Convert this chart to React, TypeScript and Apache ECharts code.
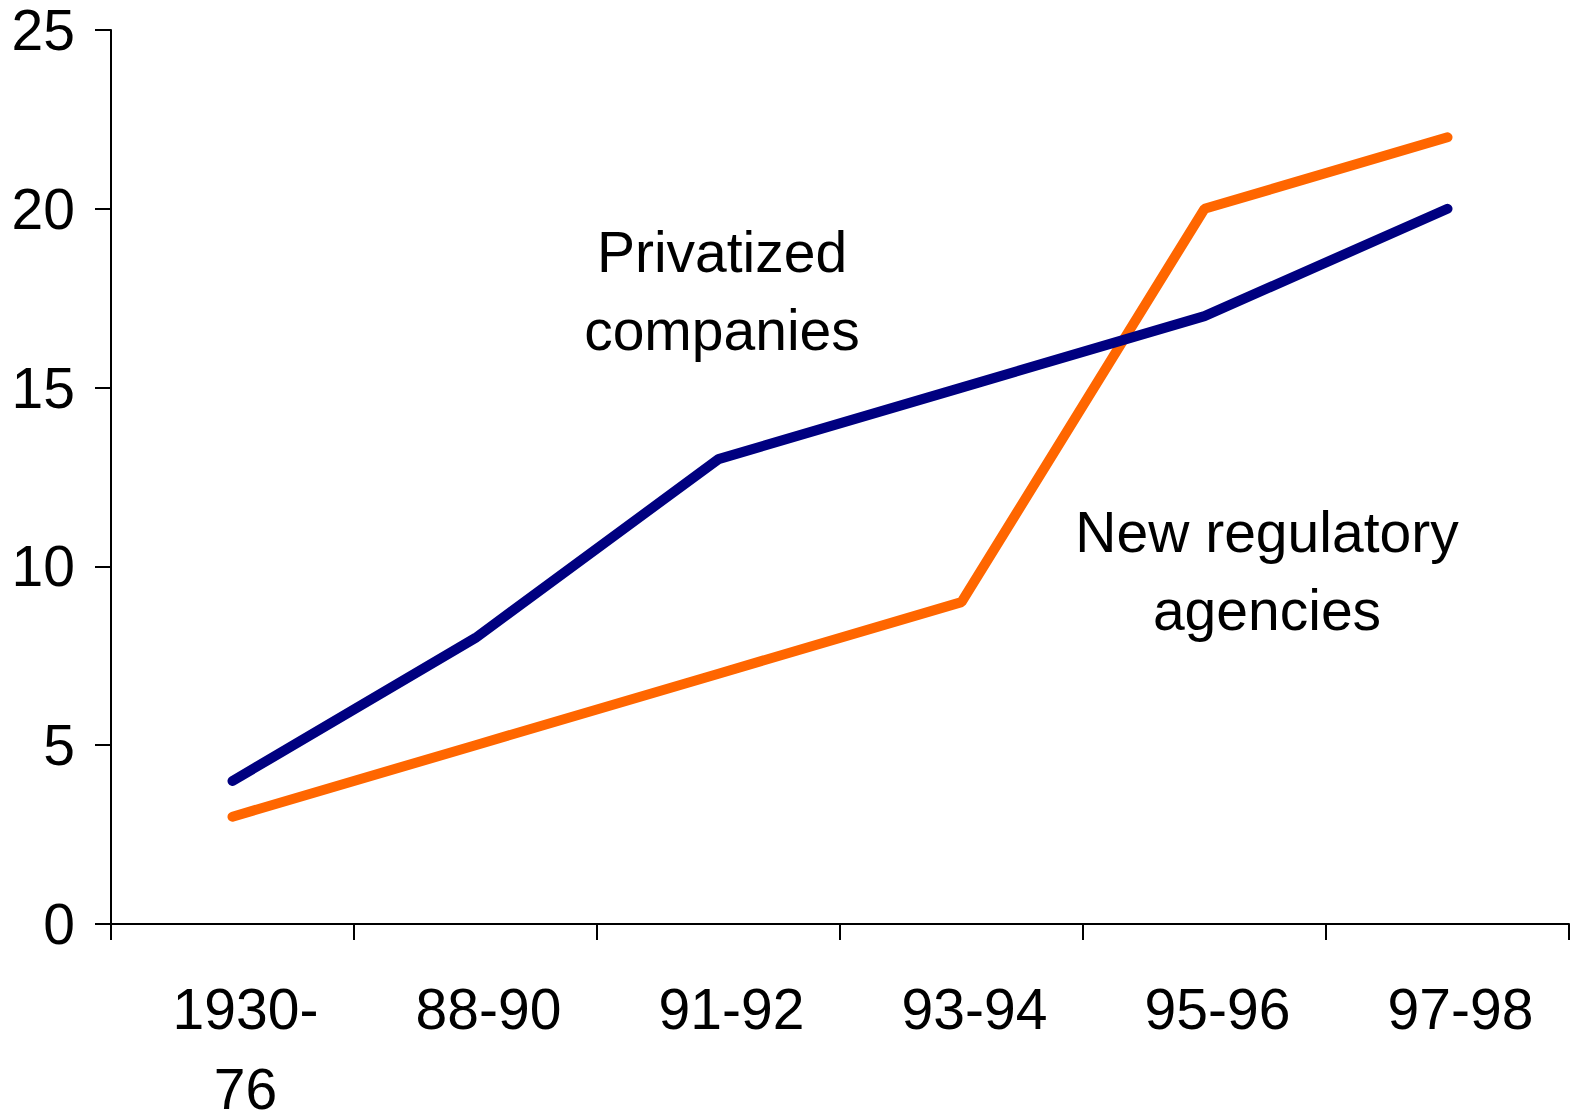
import React, { useEffect, useRef } from "react";
import * as echarts from "echarts";

const categories = ["1930-\n76", "88-90", "91-92", "93-94", "95-96", "97-98"];
const privatizedCompanies = [4, 8, 13, 15, 17, 20];
const newRegulatoryAgencies = [3, 5, 7, 9, 20, 22];
const yTicks = { min: 0, max: 25, interval: 5 };

const FONT = "'Liberation Sans', Arial, Helvetica, sans-serif";

export default function App() {
  const ref = useRef<HTMLDivElement>(null);
  useEffect(() => {
    document.body.style.margin = "0";
    const chart = echarts.init(ref.current!, null, { renderer: "svg" });
    chart.setOption({
      animation: false,
      backgroundColor: "#ffffff",
      textStyle: { fontFamily: FONT },
      grid: {
        left: 111,
        top: 30,
        right: 3,
        bottom: 192,
        containLabel: false,
        outerBoundsMode: "none",
      },
      xAxis: {
        type: "category",
        data: categories,
        boundaryGap: true,
        axisLine: { show: true, lineStyle: { color: "#000", width: 2 } },
        axisTick: { show: true, length: 16, inside: false, lineStyle: { color: "#000", width: 2 } },
        axisLabel: {
          color: "#000",
          fontSize: 57,
          fontFamily: FONT,
          lineHeight: 80,
          margin: 45,
          interval: 0,
          padding: [0, 0, 0, 26],
          hideOverlap: false,
        },
        splitLine: { show: false },
      },
      yAxis: {
        type: "value",
        min: yTicks.min,
        max: yTicks.max,
        interval: yTicks.interval,
        axisLine: { show: true, lineStyle: { color: "#000", width: 2 } },
        axisTick: { show: true, length: 16, inside: false, lineStyle: { color: "#000", width: 2 } },
        axisLabel: { color: "#000", fontSize: 57, fontFamily: FONT, margin: 36 },
        splitLine: { show: false },
      },
      series: [
        {
          name: "Privatized companies",
          type: "line",
          data: privatizedCompanies,
          symbol: "none",
          lineStyle: { color: "#000080", width: 10, cap: "round", join: "bevel" },
          itemStyle: { color: "#000080" },
          z: 3,
        },
        {
          name: "New regulatory agencies",
          type: "line",
          data: newRegulatoryAgencies,
          symbol: "none",
          lineStyle: { color: "#FF6600", width: 10, cap: "round", join: "bevel" },
          itemStyle: { color: "#FF6600" },
          z: 2,
        },
      ],
      graphic: [
        {
          type: "text",
          x: 722,
          y: 213,
          style: {
            text: "Privatized\ncompanies",
            fill: "#000",
            font: `57px ${FONT}`,
            lineHeight: 78,
            align: "center",
            verticalAlign: "top",
          },
        },
        {
          type: "text",
          x: 1267,
          y: 493,
          style: {
            text: "New regulatory\nagencies",
            fill: "#000",
            font: `57px ${FONT}`,
            lineHeight: 78,
            align: "center",
            verticalAlign: "top",
          },
        },
      ],
    });
    return () => chart.dispose();
  }, []);
  return <div ref={ref} style={{ width: 1572, height: 1116 }} />;
}
